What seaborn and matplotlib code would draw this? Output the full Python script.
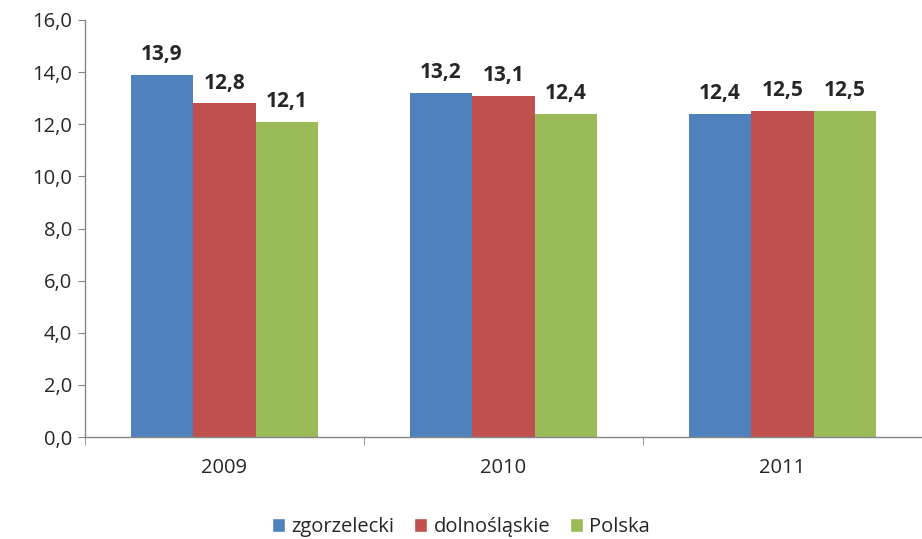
import matplotlib
matplotlib.use("Agg")
import matplotlib.pyplot as plt
import seaborn as sns
import pandas as pd
from matplotlib.patches import Patch

years = ["2009", "2010", "2011"]
series = ["zgorzelecki", "dolnośląskie", "Polska"]
zgorzelecki = [13.9, 13.2, 12.4]
dolnoslaskie = [12.8, 13.1, 12.5]
polska = [12.1, 12.4, 12.5]
colors = ["#4F81BD", "#C0504D", "#9BBB59"]
yticks = [0, 2, 4, 6, 8, 10, 12, 14, 16]

rows = []
for name, vals in zip(series, [zgorzelecki, dolnoslaskie, polska]):
    for y, v in zip(years, vals):
        rows.append({"rok": y, "seria": name, "wartosc": v})
df = pd.DataFrame(rows)

sns.set_style("white")
plt.rcParams["font.family"] = ["Open Sans", "DejaVu Sans"]

fig = plt.figure(figsize=(9.22, 5.39), dpi=100)
ax = fig.add_axes([0.092, 0.189, 0.908, 0.774])

sns.barplot(data=df, x="rok", y="wartosc", hue="seria", order=years,
            hue_order=series, palette=colors, width=0.67, saturation=1,
            ax=ax, legend=False, edgecolor="none")

for cont in ax.containers:
    labels = [f"{b.get_height():.1f}".replace(".", ",") for b in cont]
    ax.bar_label(cont, labels=labels, padding=7, fontsize=15, fontweight="bold")

ax.set_xlim(-0.5, 2.5)
ax.set_ylim(0, 16)
ax.set_yticks(yticks)
ax.set_yticklabels([f"{t:.1f}".replace(".", ",") for t in yticks], fontsize=14.5)
ax.set_xticks([0, 1, 2])
ax.set_xticklabels(years, fontsize=14.5)
ax.set_xticks([-0.5, 0.5, 1.5, 2.5], minor=True)
ax.tick_params(axis="x", which="major", length=0, pad=15)
ax.tick_params(axis="x", which="minor", length=6, color="#868686", direction="out", bottom=True)
ax.tick_params(axis="y", length=5, color="#868686", direction="out", left=True, pad=4)
ax.set_xlabel("")
ax.set_ylabel("")
for s in ["top", "right"]:
    ax.spines[s].set_visible(False)
for s in ["left", "bottom"]:
    ax.spines[s].set_color("#868686")
    ax.spines[s].set_linewidth(1)
ax.grid(False)

handles = [Patch(facecolor=c, label=n) for c, n in zip(colors, series)]
fig.legend(handles=handles, loc="center", bbox_to_anchor=(0.5, 0.022), ncol=3,
           frameon=False, fontsize=14.5, handlelength=0.65, handleheight=0.65,
           handletextpad=0.3, columnspacing=1.0)

fig.savefig("out.png", dpi=100)
